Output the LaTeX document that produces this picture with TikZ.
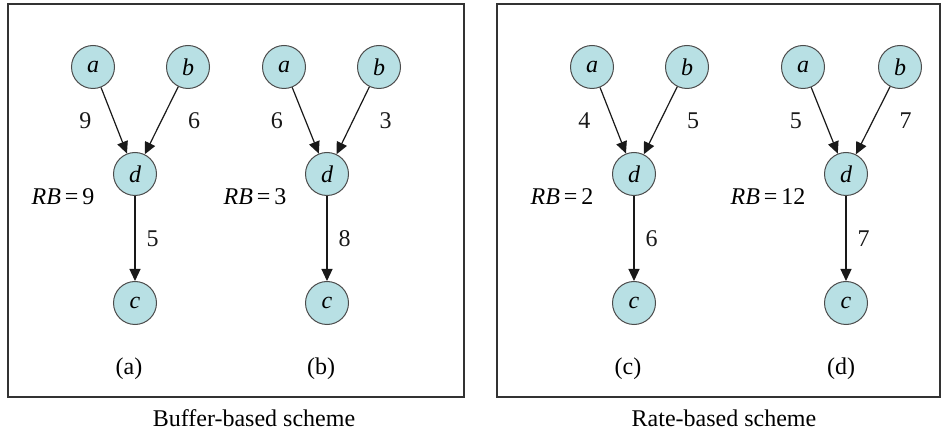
\documentclass[tikz,border=0pt]{standalone}
\usepackage{fontspec}
\setmainfont{Liberation Serif}
\usetikzlibrary{positioning, arrows.meta}

\definecolor{nodecyan}{RGB}{184,224,228}

\begin{document}
\begin{tikzpicture}[
    x=1pt, y=-1pt,
    font=\fontsize{24}{28}\selectfont,
    vnode/.style={circle, minimum size=43pt, inner sep=0pt, fill=nodecyan, draw=black!70, line width=1pt, font=\fontsize{24}{28}\selectfont\itshape},
    panel/.style={draw=black!80, line width=1.3pt},
    arr/.style={-{Triangle[length=12pt, width=11pt]}, line width=1.2pt, black!90},
    wlbl/.style={inner sep=2pt}
]
\useasboundingbox (0,0) rectangle (942,435);

% Panels
\draw[panel] (8,4) rectangle (464,397);
\draw[panel] (497,4) rectangle (940,397);

% Graph (a)
\node[vnode] (d1) at (135,174) {d};
\node[vnode, above=63pt of d1, xshift=-42pt] (a1) {a};
\node[vnode, above=63pt of d1, xshift=53pt] (b1) {b};
\node[vnode, below=85pt of d1] (c1) {c};
\draw[arr] (a1) -- node[wlbl, midway, left=20pt] {9} (d1);
\draw[arr] (b1) -- node[wlbl, midway, right=24pt] {6} (d1);
\draw[arr] (d1) -- node[wlbl, midway, right=9pt] {5} (c1);
\node[left=15pt of d1, yshift=-23pt] (rb1) {\textit{RB}\,=\,9};
\node[below=29pt of c1, xshift=-6pt] (cap1) {(a)};

% Graph (b)
\node[vnode] (d2) at (327,174) {d};
\node[vnode, above=63pt of d2, xshift=-43pt] (a2) {a};
\node[vnode, above=63pt of d2, xshift=52pt] (b2) {b};
\node[vnode, below=85pt of d2] (c2) {c};
\draw[arr] (a2) -- node[wlbl, midway, left=20pt] {6} (d2);
\draw[arr] (b2) -- node[wlbl, midway, right=24pt] {3} (d2);
\draw[arr] (d2) -- node[wlbl, midway, right=9pt] {8} (c2);
\node[left=15pt of d2, yshift=-23pt] (rb2) {\textit{RB}\,=\,3};
\node[below=29pt of c2, xshift=-6pt] (cap2) {(b)};

% Graph (c)
\node[vnode] (d3) at (634,174) {d};
\node[vnode, above=63pt of d3, xshift=-42pt] (a3) {a};
\node[vnode, above=63pt of d3, xshift=53pt] (b3) {b};
\node[vnode, below=85pt of d3] (c3) {c};
\draw[arr] (a3) -- node[wlbl, midway, left=20pt] {4} (d3);
\draw[arr] (b3) -- node[wlbl, midway, right=24pt] {5} (d3);
\draw[arr] (d3) -- node[wlbl, midway, right=9pt] {6} (c3);
\node[left=15pt of d3, yshift=-23pt] (rb3) {\textit{RB}\,=\,2};
\node[below=29pt of c3, xshift=-6pt] (cap3) {(c)};

% Graph (d)
\node[vnode] (d4) at (846,174) {d};
\node[vnode, above=63pt of d4, xshift=-43pt] (a4) {a};
\node[vnode, above=63pt of d4, xshift=54pt] (b4) {b};
\node[vnode, below=85pt of d4] (c4) {c};
\draw[arr] (a4) -- node[wlbl, midway, left=20pt] {5} (d4);
\draw[arr] (b4) -- node[wlbl, midway, right=24pt] {7} (d4);
\draw[arr] (d4) -- node[wlbl, midway, right=9pt] {7} (c4);
\node[left=15pt of d4, yshift=-23pt] (rb4) {\textit{RB}\,=\,12};
\node[below=29pt of c4, xshift=-5pt] (cap4) {(d)};

% Scheme captions
\node (buf) at (254,418) {Buffer-based scheme};
\node (rate) at (724,418) {Rate-based scheme};

\end{tikzpicture}
\end{document}
